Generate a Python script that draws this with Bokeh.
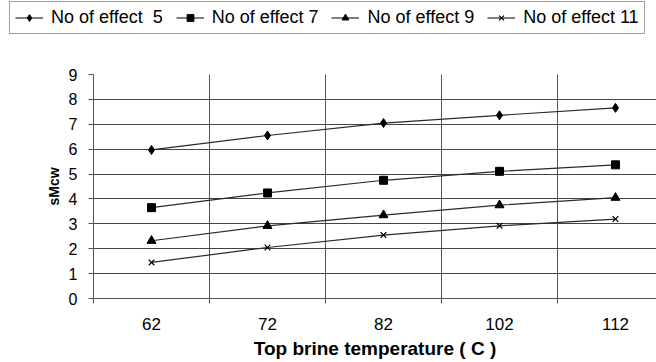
from bokeh.plotting import figure
from bokeh.models import FixedTicker, Range1d, Legend, LegendItem
from bokeh.layouts import column
from bokeh.embed import file_html
from bokeh.resources import INLINE

categories = ["62", "72", "82", "102", "112"]
effect5 = [5.97, 6.55, 7.05, 7.36, 7.66]
effect7 = [3.65, 4.24, 4.75, 5.11, 5.37]
effect9 = [2.32, 2.92, 3.35, 3.75, 4.05]
effect11 = [1.45, 2.05, 2.55, 2.92, 3.19]
series_names = ["No of effect\u00a0\u00a05", "No of effect 7", "No of effect 9", "No of effect 11"]
y_ticks = list(range(0, 10))

FONT = "Liberation Sans"
xs = list(range(len(categories)))
all_series = [effect5, effect7, effect9, effect11]
markers = ["diamond", "square", "triangle", "x"]
sizes = [9, 8, 9, 8]
LINE_COLOR = "#2a2a2a"


def draw_series(fig, vals, m, s):
    ln = fig.line(xs, vals, line_color=LINE_COLOR, line_width=1.2)
    sc = fig.scatter(xs, vals, marker=m, size=s, fill_color="black", line_color="black",
                     line_width=1.2 if m == "x" else 1)
    return ln, sc


# ---- main chart ----
p = figure(width=656, height=322, output_backend="svg", toolbar_location=None,
           x_range=Range1d(-0.5, -0.5 + 563 / 116), y_range=Range1d(0, 9))
p.frame_align = False
p.min_border_left = 93
p.min_border_right = 0
p.min_border_top = 34
p.min_border_bottom = 64
p.outline_line_color = None
p.background_fill_color = "white"
p.border_fill_color = "white"

for vals, m, s in zip(all_series, markers, sizes):
    draw_series(p, vals, m, s)

# x axis
p.xaxis.ticker = FixedTicker(ticks=xs, minor_ticks=[i - 0.5 for i in xs])
p.xaxis.major_label_overrides = {i: c for i, c in zip(xs, categories)}
p.xaxis.major_tick_out = 0
p.xaxis.major_tick_in = 0
p.xaxis.minor_tick_out = 5
p.xaxis.minor_tick_in = 0
p.xaxis.minor_tick_line_color = "#555555"
p.xaxis.major_label_standoff = 14
p.xaxis.major_label_text_font = FONT
p.xaxis.major_label_text_font_size = "17px"
p.xaxis.major_label_text_color = "black"
p.xaxis.axis_line_color = "#555555"
p.xaxis.axis_label = "Top brine temperature ( C )"
p.xaxis.axis_label_text_font = FONT
p.xaxis.axis_label_text_font_style = "bold"
p.xaxis.axis_label_text_font_size = "19px"
p.xaxis.axis_label_text_color = "black"
p.xaxis.axis_label_standoff = 5

# y axis
p.yaxis.ticker = FixedTicker(ticks=y_ticks, minor_ticks=[])
p.yaxis.major_tick_out = 5
p.yaxis.major_tick_in = 0
p.yaxis.major_tick_line_color = "#555555"
p.yaxis.major_label_standoff = 11
p.yaxis.major_label_text_font = FONT
p.yaxis.major_label_text_font_size = "16px"
p.yaxis.major_label_text_color = "black"
p.yaxis.axis_line_color = "#555555"
p.yaxis.axis_label = "sMcw"
p.yaxis.axis_label_text_font = FONT
p.yaxis.axis_label_text_font_style = "bold"
p.yaxis.axis_label_text_font_size = "14px"
p.yaxis.axis_label_text_color = "black"
p.yaxis.axis_label_standoff = 4

# grids
p.xgrid.ticker = FixedTicker(ticks=[i - 0.5 for i in xs])
p.xgrid.grid_line_color = "#555555"
p.ygrid.ticker = FixedTicker(ticks=y_ticks)
p.ygrid.grid_line_color = "#444444"

# ---- legend strip (series drawn off-range, only their legend glyphs show) ----
lg = figure(width=656, height=40, output_backend="svg", toolbar_location=None,
            x_range=Range1d(100, 101), y_range=Range1d(100, 101),
            x_axis_location=None, y_axis_location=None)
lg.frame_align = False
lg.min_border_left = 0
lg.min_border_right = 0
lg.min_border_top = 0
lg.min_border_bottom = 0
lg.outline_line_color = None
lg.xgrid.visible = False
lg.ygrid.visible = False
lg.border_fill_color = "white"
lg.background_fill_color = "white"

items = []
for vals, name, m, s in zip(all_series, series_names, markers, sizes):
    ln, sc = draw_series(lg, vals, m, s)
    items.append(LegendItem(label=name, renderers=[ln, sc]))

legend = Legend(items=items, orientation="horizontal", location=(9, 6))
legend.glyph_width = 28
legend.glyph_height = 17
legend.label_height = 17
legend.label_standoff = 8
legend.spacing = 13
legend.padding = 5
legend.margin = 0
legend.label_text_font = FONT
legend.label_text_font_size = "18px"
legend.label_text_color = "black"
legend.border_line_color = "#444444"
legend.border_line_width = 1
legend.background_fill_alpha = 1
lg.add_layout(legend, "center")

layout = column(lg, p, spacing=0)
open("out.html", "w").write(file_html(layout, INLINE))
